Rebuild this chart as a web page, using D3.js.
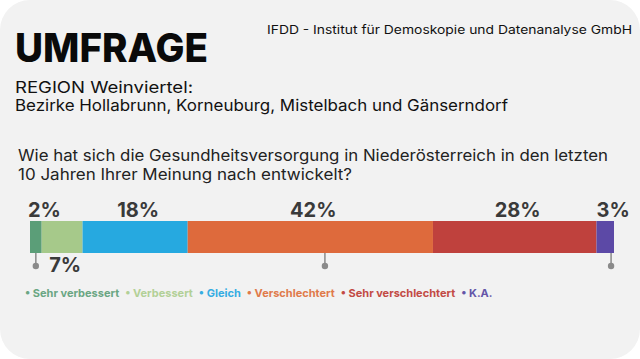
<!DOCTYPE html>
<html><head><meta charset="utf-8">
<script src="https://cdn.jsdelivr.net/npm/d3@7"></script>
<style>
html,body{margin:0;padding:0;background:#fff;}
svg{display:block;}
text{font-family:Inter,"Noto Sans",sans-serif;}
</style></head>
<body>
<svg id="chart" width="640" height="359"></svg>
<script>
const categories = ["Sehr verbessert","Verbessert","Gleich","Verschlechtert","Sehr verschlechtert","K.A."];
const values = [2,7,18,42,28,3];
const colors = ["#5b9e78","#a6c98a","#26a9e0","#de6a3c","#bf413d","#5c49a6"];
const legendColors = ["#6aa683","#b2d097","#36ade2","#e07a4a","#c24a44","#6455a8"];
const labelBelow = [false,true,false,false,false,false];
const markers = [1, 50.5, 99.5];
const title = "UMFRAGE";
const source = "IFDD - Institut für Demoskopie und Datenanalyse GmbH";
const subtitle = ["REGION Weinviertel:", "Bezirke Hollabrunn, Korneuburg, Mistelbach und Gänserndorf"];
const question = ["Wie hat sich die Gesundheitsversorgung in Niederösterreich in den letzten", "10 Jahren Ihrer Meinung nach entwickelt?"];

const svg = d3.select("#chart");
svg.append("rect").attr("x",0).attr("y",0).attr("width",640).attr("height",359)
  .attr("rx",30).attr("ry",30).attr("fill","#f2f2f2");

function fit(sel, w){ sel.attr("textLength", w).attr("lengthAdjust","spacingAndGlyphs"); return sel; }

fit(svg.append("text").attr("x",15).attr("y",62).attr("font-size",40).attr("font-weight",800)
  .attr("fill","#0a0a0a").text(title), 193);
fit(svg.append("text").attr("x",267).attr("y",34).attr("font-size",11.5).attr("fill","#111").text(source), 365);
fit(svg.append("text").attr("x",15).attr("y",93).attr("font-size",16).attr("font-weight",400).attr("fill","#111").text(subtitle[0]), 178);
fit(svg.append("text").attr("x",15).attr("y",111).attr("font-size",16).attr("font-weight",400).attr("fill","#111").text(subtitle[1]), 493);
fit(svg.append("text").attr("x",18).attr("y",161).attr("font-size",15.5).attr("fill","#222").text(question[0]), 590);
fit(svg.append("text").attr("x",18).attr("y",180).attr("font-size",15.5).attr("fill","#222").text(question[1]), 334);

const x = d3.scaleLinear().domain([0,100]).range([30,614]);
const stack = [];
let acc = 0;
values.forEach((v,i)=>{ stack.push({i, v, x0:acc, x1:acc+v}); acc+=v; });
const y0 = 221, bh = 32;

svg.append("g").selectAll("rect").data(stack).join("rect")
  .attr("x",d=>x(d.x0)).attr("y",y0).attr("width",d=>x(d.x1)-x(d.x0)).attr("height",bh)
  .attr("fill",d=>colors[d.i]);

const mk = svg.append("g");
mk.selectAll("line").data(markers).join("line")
  .attr("x1",d=>x(d)).attr("x2",d=>x(d)).attr("y1",y0+bh).attr("y2",266)
  .attr("stroke","#8a8a8a").attr("stroke-width",1.5);
mk.selectAll("circle").data(markers).join("circle")
  .attr("cx",d=>x(d)).attr("cy",266).attr("r",3.2).attr("fill","#8a8a8a");

svg.append("g").selectAll("text").data(stack).join("text")
  .attr("x",(d,k)=> k===0 ? x(d.x0)-2 : (k===stack.length-1 ? x(d.x0) : (x(d.x0)+x(d.x1))/2 + 3))
  .attr("text-anchor",(d,k)=> (k===0||k===stack.length-1) ? "start" : "middle")
  .attr("y",d=>labelBelow[d.i] ? 272 : 217)
  .attr("font-size",20).attr("font-weight",700).attr("fill","#3a3a3a")
  .text(d=>d.v+"%");

// legend: choose a font size so the items fill the reference width with small gaps
const lgStart = 25, lgEnd = 493, gap = 6;
const lg = svg.append("g");
const items = lg.selectAll("text").data(categories).join("text")
  .attr("y",297).attr("font-size",13).attr("font-weight",700)
  .attr("fill",(d,i)=>legendColors[i]).text(d=>"\u2022 "+d);
let widths = items.nodes().map(n=>n.getComputedTextLength());
const avail = lgEnd - lgStart - gap*(categories.length-1);
const fs = Math.min(13.5, 13*avail/d3.sum(widths));
items.attr("font-size",fs);
widths = items.nodes().map(n=>n.getComputedTextLength());
let cx = lgStart;
items.each(function(d,i){ d3.select(this).attr("x",cx); cx += widths[i] + gap; });
</script>
</body></html>
